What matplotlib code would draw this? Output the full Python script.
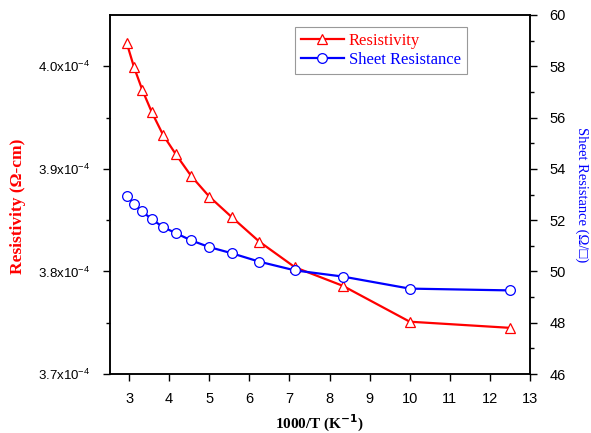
import numpy as np
import matplotlib
matplotlib.use("Agg")
import matplotlib.pyplot as plt
import matplotlib.ticker as ticker

# 1000/T values
inv_temp = [2.94, 3.125, 3.33, 3.57, 3.85, 4.17, 4.55, 5.0, 5.56, 6.25, 7.14, 8.33, 10.0, 12.5]
# resistivity (ohm-cm)
resistivity = [4.023e-4, 3.999e-4, 3.977e-4, 3.955e-4, 3.933e-4, 3.914e-4, 3.893e-4,
               3.873e-4, 3.853e-4, 3.829e-4, 3.804e-4, 3.786e-4, 3.751e-4, 3.745e-4]
# sheet resistance (ohm/sq)
sheet_res = [52.94, 52.63, 52.34, 52.03, 51.73, 51.49, 51.21,
             50.95, 50.71, 50.38, 50.04, 49.80, 49.33, 49.26]

left_ticks = [3.7e-4, 3.8e-4, 3.9e-4, 4.0e-4]
left_minor = [3.75e-4, 3.85e-4, 3.95e-4]
left_ticklabels = [r'3.7x10$^{-4}$', r'3.8x10$^{-4}$', r'3.9x10$^{-4}$', r'4.0x10$^{-4}$']

plt.rcParams['font.family'] = ['Liberation Sans', 'DejaVu Sans']
plt.rcParams['mathtext.fontset'] = 'custom'
plt.rcParams['mathtext.rm'] = 'Liberation Sans'

fig = plt.figure(figsize=(5.91, 4.33), dpi=100)
ax = fig.add_axes([110 / 591, 1 - 374 / 433, 420 / 591, 359 / 433])
ax2 = ax.twinx()

l1, = ax.plot(inv_temp, resistivity, color='red', lw=1.6, marker='^', ms=7.5,
              mfc='white', mec='red', mew=0.9, label='Resistivity')
l2, = ax2.plot(inv_temp, sheet_res, color='blue', lw=1.6, marker='o', ms=7,
               mfc='white', mec='blue', mew=0.9, label='Sheet Resistance')

ax.set_xlim(2.525, 13)
ax.set_ylim(3.7e-4, 4.05e-4)
ax2.set_ylim(46, 60)

ax.xaxis.set_major_locator(ticker.MultipleLocator(1))
ax.set_yticks(left_ticks)
ax.set_yticklabels(left_ticklabels)
ax.yaxis.set_minor_locator(ticker.FixedLocator(left_minor))
ax2.yaxis.set_major_locator(ticker.MultipleLocator(2))
ax2.yaxis.set_minor_locator(ticker.MultipleLocator(1))

ax.tick_params(axis='x', which='major', direction='out', length=5, width=1,
               labelsize=10.5, pad=8)
ax.tick_params(axis='y', which='major', direction='out', length=5, width=1,
               labelsize=9.5, pad=9)
ax.tick_params(axis='y', which='minor', direction='out', length=3, width=1)
ax2.tick_params(axis='y', which='major', direction='out', length=5, width=1,
                labelsize=10.5, pad=9)
ax2.tick_params(axis='y', which='minor', direction='out', length=3, width=1)
for a in (ax, ax2):
    for s in a.spines.values():
        s.set_linewidth(1.1)

ax.set_xlabel(r'1000/T (K$^{\mathbf{-1}}$)', fontsize=11, fontweight='bold',
              family='Liberation Serif', labelpad=5)
ax.set_ylabel('Resistivity (\u03a9-cm)', fontsize=12.5, fontweight='bold', color='red',
              family='Liberation Serif')
ax.yaxis.set_label_coords(-0.2, 0.468)
ax2.set_ylabel('Sheet Resistance (\u03a9/\u25a1)', fontsize=10.5, color='blue',
               family=['Liberation Serif', 'DejaVu Sans'], rotation=-90, labelpad=16)

leg = ax.legend(handles=[l1, l2], loc='upper left', bbox_to_anchor=(0.42, 0.99),
                prop={'family': 'Liberation Serif', 'size': 12}, frameon=True,
                fancybox=False, edgecolor='gray', handlelength=2.6,
                borderpad=0.35, labelspacing=0.2, handletextpad=0.3)
leg.get_frame().set_linewidth(0.8)
for txt, c in zip(leg.get_texts(), ['red', 'blue']):
    txt.set_color(c)

fig.savefig('out.png', dpi=100)
